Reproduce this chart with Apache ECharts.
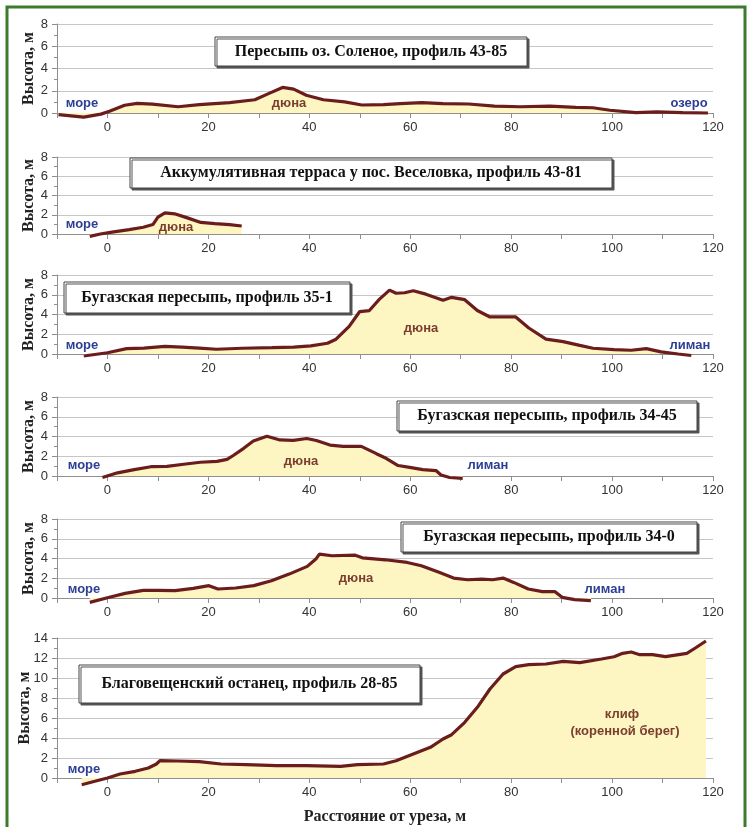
<!DOCTYPE html>
<html>
<head>
<meta charset="utf-8">
<script src="https://cdn.jsdelivr.net/npm/echarts@6/dist/echarts.min.js"></script>
<style>
  html, body { margin: 0; padding: 0; background: #fff; }
  #chart { width: 750px; height: 827px; }
</style>
</head>
<body>
<div id="chart"></div>
<script>
// профили: [расстояние от уреза, м ; высота, м]
const profile4385 = [[-9.7,-0.15],[-4.7,-0.37],[-1.3,-0.1],[0.4,0.15],[3.4,0.7],[5.9,0.87],[8.9,0.8],[14,0.56],[18.2,0.75],
  [24.2,0.94],[29.2,1.19],[31.8,1.72],[34.7,2.3],[36.9,2.15],[39.4,1.6],[42.8,1.19],[47,1.0],[50.4,0.72],[54.7,0.75],
  [58,0.84],[62.3,0.94],[66.5,0.84],[71.6,0.81],[76.7,0.62],[81.8,0.56],[87.7,0.62],[92.8,0.5],[96.2,0.47],[99.6,0.25],
  [104.7,0.03],[108.9,0.1],[114,0.03],[119,0]];
const profile4381 = [[-3.5,-0.25],[-1.4,0],[0.9,0.2],[4.3,0.46],[7.1,0.7],[9,0.98],[10,1.75],[11.4,2.2],[13.3,2.1],
  [15.7,1.7],[18.5,1.2],[21.3,1.08],[24.2,0.98],[26.6,0.83]];
const profile351 = [[-4.7,-0.2],[0,0.13],[3.8,0.55],[7.2,0.6],[11.4,0.77],[14.8,0.7],[18.2,0.6],[21.6,0.48],[26.7,0.58],
  [32.6,0.64],[36.9,0.7],[40.3,0.83],[43.6,1.09],[45.3,1.5],[47.9,2.8],[50,4.3],[51.9,4.4],[53.8,5.5],[55.9,6.47],
  [57.2,6.15],[58.9,6.2],[60.6,6.4],[63.1,6.06],[66.5,5.45],[68.2,5.74],[70.8,5.5],[73.3,4.4],[75.8,3.75],[80.9,3.75],
  [83.5,2.63],[86.9,1.5],[90.3,1.25],[93.6,0.87],[96.2,0.58],[100.4,0.45],[103.8,0.38],[106.8,0.55],[109.7,0.22],
  [113.1,0],[115.7,-0.15]];
const profile3445 = [[-1,-0.15],[2,0.32],[5.3,0.65],[8.6,0.94],[11.8,0.97],[15.1,1.19],[18.4,1.39],[21.7,1.48],[23.7,1.68],
  [25,2.1],[27,2.8],[28.9,3.55],[31.6,4.03],[34.2,3.65],[36.8,3.6],[39.5,3.8],[41.4,3.6],[44.1,3.13],[46.7,3.0],
  [50.3,3.0],[53.3,2.26],[55.3,1.77],[57.6,1.06],[59.9,0.87],[62.5,0.65],[65.1,0.55],[66.1,0.1],[67.8,-0.15],[70.4,-0.25]];
const profile340 = [[-3.5,-0.44],[0,0.03],[3.5,0.47],[7.1,0.77],[9.9,0.77],[13.4,0.74],[17,0.98],[20.1,1.25],[21.9,0.91],
  [25.4,1.01],[29,1.25],[32.5,1.75],[36,2.42],[39.6,3.2],[41.3,3.94],[42,4.44],[44.5,4.28],[49.1,4.34],[50.5,4.07],
  [55.1,3.87],[59.4,3.6],[62.2,3.27],[65.7,2.6],[68.6,2.02],[71.4,1.85],[74.2,1.92],[76.3,1.85],[78.4,2.02],[80.5,1.58],
  [83.4,0.91],[86.2,0.64],[88.7,0.64],[90.1,0.07],[92.6,-0.17],[95.8,-0.27]];
const profile2885 = [[-5.1,-0.67],[-2.5,-0.33],[0,0],[2.5,0.4],[5.5,0.67],[8.1,1.0],[9.7,1.4],[10.4,1.73],[14,1.7],
  [18.2,1.63],[22.5,1.4],[27.5,1.33],[33.5,1.23],[39.4,1.23],[46.2,1.17],[49.6,1.33],[54.7,1.4],[57.2,1.73],[60.6,2.4],
  [64,3.07],[66.5,3.9],[68.2,4.33],[70.8,5.57],[73.3,7.07],[75.8,8.9],[78.4,10.4],[80.9,11.13],[83.5,11.33],[86.9,11.4],
  [90.3,11.67],[93.6,11.53],[97.9,11.9],[100.4,12.13],[102.1,12.47],[103.8,12.6],[105.5,12.33],[108,12.33],[110.6,12.13],
  [114.8,12.47],[116.5,13],[118.6,13.7]];

const profiles = [profile4385, profile4381, profile351, profile3445, profile340, profile2885];
const profileTitles = [
  'Пересыпь оз. Соленое, профиль 43-85',
  'Аккумулятивная терраса у пос. Веселовка, профиль 43-81',
  'Бугазская пересыпь, профиль 35-1',
  'Бугазская пересыпь, профиль 34-45',
  'Бугазская пересыпь, профиль 34-0',
  'Благовещенский останец, профиль 28-85'
];
const yMaxList = [8, 8, 8, 8, 8, 14];

// раскладка панелей
const gridTops = [24, 157, 275, 397, 519, 638];
const gridHeights = [89, 77, 79, 79, 79, 140];
const titleBoxes = [[215, 37, 312, 29], [130, 158, 482, 30], [64, 282, 286, 31], [397, 401, 300, 30], [401, 522, 296, 30], [79, 665, 341, 38]];

const lineColor = '#6b1d1d';
const fillColor = '#fdf5c2';
const axisColor = '#8f8f8f';
const gridColor = '#c6c6c6';
const fontColor = '#333';
const blue = '#2d3f95';
const brown = '#7b3e2e';
const serif = "'Liberation Serif', 'Times New Roman', serif";
const narrow = "'Liberation Sans Narrow', 'Liberation Sans', Arial, sans-serif";

// подписи внутри графиков: [текст, x, y, цвет]
const notes = [
  ['море', 82, 103, blue], ['дюна', 289, 103, brown], ['озеро', 689, 103, blue],
  ['море', 82, 224, blue], ['дюна', 176, 227, brown],
  ['море', 82, 345, blue], ['дюна', 421, 328, brown], ['лиман', 690, 345, blue],
  ['море', 84, 465, blue], ['дюна', 301, 461, brown], ['лиман', 488, 465, blue],
  ['море', 84, 589, blue], ['дюна', 356, 578, brown], ['лиман', 605, 589, blue],
  ['море', 84, 769, blue], ['клиф', 622, 714, brown], ['(коренной берег)', 625, 731, brown]
];

const chart = echarts.init(document.getElementById('chart'));

const grid = [], xAxis = [], yAxis = [], series = [];
profiles.forEach((data, i) => {
  const last = i === profiles.length - 1;
  grid.push({ left: 57, right: 37, top: gridTops[i], height: gridHeights[i] });
  xAxis.push({
    gridIndex: i,
    type: 'value',
    min: -10,
    max: 120,
    interval: 10,
    axisLine: { onZero: false, lineStyle: { color: axisColor } },
    axisTick: { length: 5, lineStyle: { color: axisColor } },
    splitLine: { show: false },
    axisLabel: {
      margin: 8,
      color: fontColor,
      fontFamily: narrow,
      fontSize: 13,
      formatter: (v) => (v % 20 === 0 ? String(v) : '')
    },
    name: last ? 'Расстояние от уреза, м' : '',
    nameLocation: 'middle',
    nameGap: 31,
    nameMoveOverlap: false,
    nameTextStyle: { color: '#222', fontFamily: serif, fontWeight: 'bold', fontSize: 16 }
  });
  yAxis.push({
    gridIndex: i,
    type: 'value',
    min: 0,
    max: yMaxList[i],
    interval: 2,
    axisLine: { show: true, onZero: false, lineStyle: { color: axisColor } },
    axisTick: { show: true, length: 5, lineStyle: { color: axisColor } },
    minorTick: { show: true, splitNumber: 2, length: 3, lineStyle: { color: axisColor } },
    splitLine: { lineStyle: { color: gridColor } },
    axisLabel: { margin: 9, color: fontColor, fontFamily: narrow, fontSize: 13 },
    name: 'Высота, м',
    nameLocation: 'middle',
    nameGap: last ? 24 : 20,
    nameMoveOverlap: false,
    nameTextStyle: { color: '#222', fontFamily: serif, fontWeight: 'bold', fontSize: 16 }
  });
  series.push({
    type: 'line',
    xAxisIndex: i,
    yAxisIndex: i,
    data: data,
    symbol: 'none',
    clip: false,
    lineStyle: { color: lineColor, width: 3.2 },
    areaStyle: { color: fillColor, opacity: 1 }
  });
});

const graphic = [{
  type: 'rect',
  shape: { x: 7, y: 7, width: 738, height: 840 },
  style: { fill: 'none', stroke: '#3d7b2b', lineWidth: 3 },
  silent: true
}];
profileTitles.forEach((t, i) => {
  const b = titleBoxes[i];
  graphic.push({
    type: 'rect',
    shape: { x: b[0], y: b[1], width: b[2], height: b[3] },
    style: { fill: '#fff', stroke: '#444', lineWidth: 1, shadowColor: '#555', shadowOffsetX: 2, shadowOffsetY: 2, shadowBlur: 0 },
    z: 10
  });
  graphic.push({
    type: 'text',
    x: b[0] + b[2] / 2,
    y: b[1] + b[3] / 2,
    style: { text: t, fill: '#111', font: 'bold 16px ' + serif, textAlign: 'center', textVerticalAlign: 'middle' },
    z: 11
  });
});
notes.forEach((n) => {
  graphic.push({
    type: 'text',
    x: n[1],
    y: n[2],
    style: { text: n[0], fill: n[3], font: 'bold 13px ' + narrow, textAlign: 'center', textVerticalAlign: 'middle' },
    z: 12
  });
});

const option = {
  backgroundColor: '#fff',
  animation: false,
  grid: grid,
  xAxis: xAxis,
  yAxis: yAxis,
  series: series,
  graphic: graphic
};
chart.setOption(option);
</script>
</body>
</html>
